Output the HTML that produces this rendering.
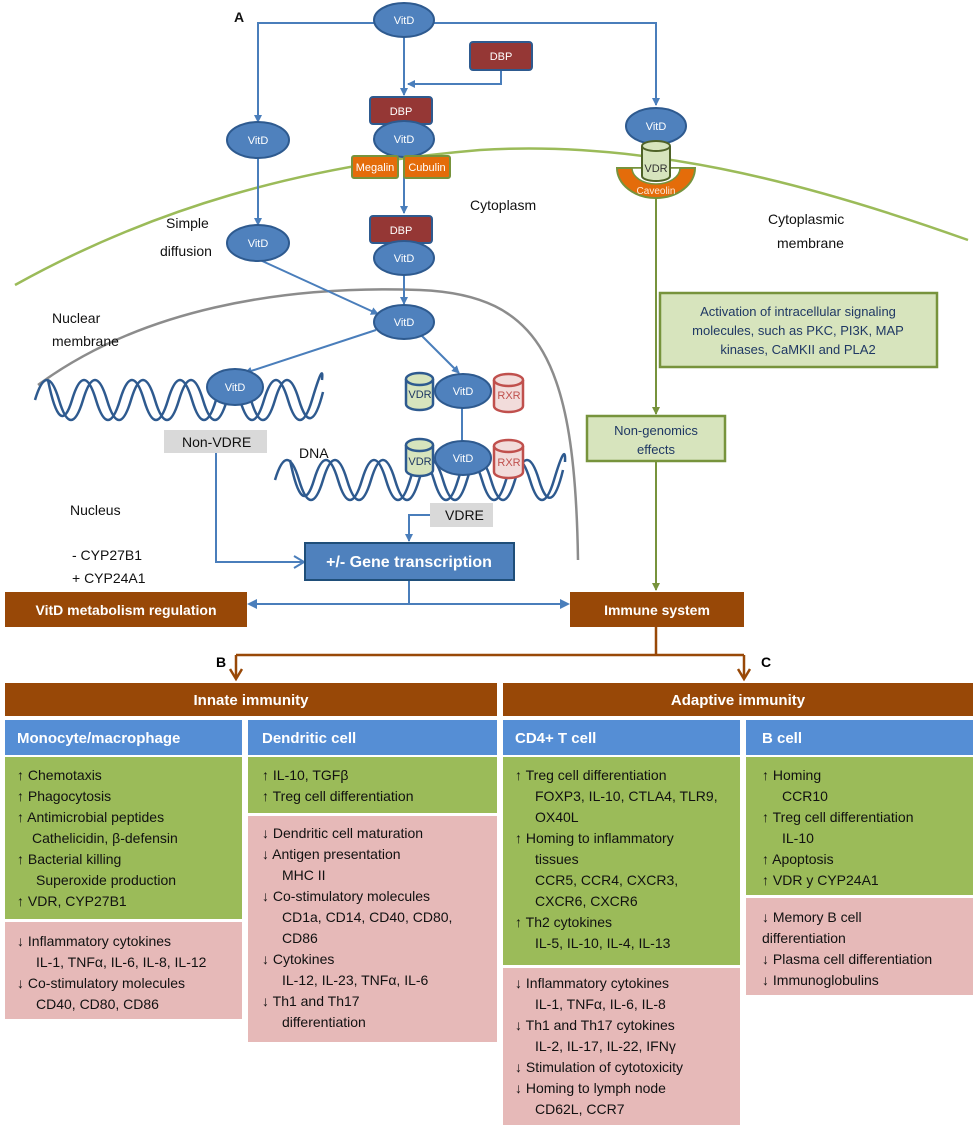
<!DOCTYPE html>
<html><head><meta charset="utf-8"><style>
html,body{margin:0;padding:0;background:#fff}
svg{display:block}
text{font-family:"Liberation Sans",sans-serif}
</style></head><body>
<svg width="973" height="1144" viewBox="0 0 973 1144" xmlns="http://www.w3.org/2000/svg">
<defs>
<marker id="ab" markerWidth="8" markerHeight="8" refX="7" refY="4" orient="auto" markerUnits="userSpaceOnUse"><path d="M0,0 L8,4 L0,8 z" fill="#4a7ebb"/></marker>
<marker id="ag" markerWidth="8" markerHeight="8" refX="7" refY="4" orient="auto" markerUnits="userSpaceOnUse"><path d="M0,0 L8,4 L0,8 z" fill="#77933c"/></marker>
<marker id="ar" markerWidth="14" markerHeight="14" refX="10" refY="7" orient="auto" markerUnits="userSpaceOnUse"><path d="M1,1 L11,7 L1,13" fill="none" stroke="#984807" stroke-width="2.5"/></marker>
<marker id="ao" markerWidth="14" markerHeight="14" refX="10" refY="7" orient="auto" markerUnits="userSpaceOnUse"><path d="M1,1 L11,7 L1,13" fill="none" stroke="#4a7ebb" stroke-width="2"/></marker>
</defs>

<path d="M15,285 C150,210 300,165 480,150 C640,140 800,180 968,240" fill="none" stroke="#9bbb59" stroke-width="2.5"/>
<path d="M38,385 C140,310 280,285 420,290 C540,295 575,360 578,560" fill="none" stroke="#8c8c8c" stroke-width="2.5"/>

<g stroke="#4a7ebb" stroke-width="2" fill="none">
<path d="M374,23 L258,23 L258,122" marker-end="url(#ab)"/>
<path d="M434,23 L656,23 L656,105" marker-end="url(#ab)"/>
<path d="M404,37 L404,95" marker-end="url(#ab)"/>
<path d="M501,70 L501,84 L408,84" marker-end="url(#ab)"/>
<path d="M258,158 L258,225" marker-end="url(#ab)"/>
<path d="M404,157 L404,213" marker-end="url(#ab)"/>
<path d="M260,260 L378,314" marker-end="url(#ab)"/>
<path d="M404,276 L404,304" marker-end="url(#ab)"/>
<path d="M376,330 L245,373" marker-end="url(#ab)"/>
<path d="M422,336 L459,373" marker-end="url(#ab)"/>
<path d="M462,408 L462,441"/>
<path d="M216,453 L216,562 L303,562" marker-end="url(#ao)"/>
<path d="M430,515 L409,515 L409,541" marker-end="url(#ab)"/>
<path d="M409,580 L409,604 M250,604 L567,604"/>
</g>
<path d="M247,604 L257,599 L257,609 z" fill="#4a7ebb"/>
<path d="M570,604 L560,599 L560,609 z" fill="#4a7ebb"/>

<g stroke="#77933c" stroke-width="2" fill="none">
<path d="M656,195 L656,414" marker-end="url(#ag)"/>
<path d="M656,461 L656,590" marker-end="url(#ag)"/>
</g>

<g fill="none" stroke="#2e5a8f" stroke-width="2.5">
<path d="M35,400 Q47,360 59,400 T83,400 T107,400 T131,400 T155,400 T179,400 T203,400 T227,400 T251,400 T275,400 T299,400 T323,392"/>
<path d="M48,380 Q60,440 72,400 T96,400 T120,400 T144,400 T168,400 T192,400 T216,400 T240,400 T264,400 T288,400 T312,400 T322,380"/>
<path d="M275,480 Q287,440 299,480 T323,480 T347,480 T371,480 T395,480 T419,480 T443,480 T467,480 T491,480 T515,480 T539,480 T563,470"/>
<path d="M290,460 Q302,520 314,480 T338,480 T362,480 T386,480 T410,480 T434,480 T458,480 T482,480 T506,480 T530,480 T554,480 T565,462"/>
</g>

<g fill="#4f81bd" stroke="#2e5a8f" stroke-width="2">
<ellipse cx="404" cy="20" rx="30" ry="17"/>
<ellipse cx="258" cy="140" rx="31" ry="18"/>
<ellipse cx="656" cy="126" rx="30" ry="18"/>
<ellipse cx="258" cy="243" rx="31" ry="18"/>
<ellipse cx="404" cy="322" rx="30" ry="17"/>
<ellipse cx="235" cy="387" rx="28" ry="18"/>
</g>
<rect x="470" y="42" width="62" height="28" rx="3" fill="#953735" stroke="#2e5a8f" stroke-width="2"/>
<rect x="370" y="97" width="62" height="27" rx="3" fill="#953735" stroke="#2e5a8f" stroke-width="2"/>
<ellipse cx="404" cy="139" rx="30" ry="18" fill="#4f81bd" stroke="#2e5a8f" stroke-width="2"/>
<rect x="370" y="216" width="62" height="27" rx="3" fill="#953735" stroke="#2e5a8f" stroke-width="2"/>
<ellipse cx="404" cy="258" rx="30" ry="17" fill="#4f81bd" stroke="#2e5a8f" stroke-width="2"/>
<rect x="352" y="156" width="46" height="22" rx="2" fill="#e46c0a" stroke="#77933c" stroke-width="2"/>
<rect x="404" y="156" width="46" height="22" rx="2" fill="#e46c0a" stroke="#77933c" stroke-width="2"/>

<path d="M617,168 L695,168 A39,30 0 0 1 617,168 z" fill="#e46c0a" stroke="#77933c" stroke-width="2"/>
<path d="M632,168 L680,168 A24,16 0 0 1 632,168 z" fill="#fff" stroke="#77933c" stroke-width="1.5"/>
<path d="M642,146 L642,176 A14,5 0 0 0 670,176 L670,146" fill="#d7e4bd" stroke="#4f6228" stroke-width="2"/>
<ellipse cx="656" cy="146" rx="14" ry="5" fill="#d7e4bd" stroke="#4f6228" stroke-width="2"/>

<g stroke-width="2.5">
<path d="M406,379 L406,404 A13.5,6 0 0 0 433,404 L433,379" fill="#d7e4bd" stroke="#2e5a8f"/>
<ellipse cx="419.5" cy="379" rx="13.5" ry="6" fill="#d7e4bd" stroke="#2e5a8f"/>
<path d="M494,380 L494,406 A14.5,6 0 0 0 523,406 L523,380" fill="#f2dcdb" stroke="#c0504d"/>
<ellipse cx="508.5" cy="380" rx="14.5" ry="6" fill="#f2dcdb" stroke="#c0504d"/>
<ellipse cx="463" cy="391" rx="28" ry="17" fill="#4f81bd" stroke="#2e5a8f" stroke-width="2"/>
<path d="M406,445 L406,470 A13.5,6 0 0 0 433,470 L433,445" fill="#d7e4bd" stroke="#2e5a8f"/>
<ellipse cx="419.5" cy="445" rx="13.5" ry="6" fill="#d7e4bd" stroke="#2e5a8f"/>
<path d="M494,446 L494,472 A14.5,6 0 0 0 523,472 L523,446" fill="#f2dcdb" stroke="#c0504d"/>
<ellipse cx="508.5" cy="446" rx="14.5" ry="6" fill="#f2dcdb" stroke="#c0504d"/>
<ellipse cx="463" cy="458" rx="28" ry="17" fill="#4f81bd" stroke="#2e5a8f" stroke-width="2"/>
</g>

<rect x="164" y="430" width="103" height="23" fill="#d9d9d9"/>
<rect x="430" y="503" width="63" height="24" fill="#d9d9d9"/>

<rect x="305" y="543" width="209" height="37" fill="#4f81bd" stroke="#1f4e79" stroke-width="2"/>

<rect x="660" y="293" width="277" height="74" fill="#d7e4bd" stroke="#77933c" stroke-width="2.5"/>
<rect x="587" y="416" width="138" height="45" fill="#d7e4bd" stroke="#77933c" stroke-width="2.5"/>

<rect x="5" y="592" width="242" height="35" fill="#984807"/>
<rect x="570" y="592" width="174" height="35" fill="#984807"/>
<g stroke="#984807" stroke-width="2.5" fill="none">
<path d="M656,627 L656,655 M236,655 L744,655"/>
<path d="M236,655 L236,678" marker-end="url(#ar)"/>
<path d="M744,655 L744,678" marker-end="url(#ar)"/>
</g>

<g font-size="11" fill="#fff" text-anchor="middle">
<text x="404" y="24">VitD</text><text x="258" y="144">VitD</text><text x="656" y="130">VitD</text>
<text x="258" y="247">VitD</text><text x="404" y="326">VitD</text><text x="235" y="391">VitD</text>
<text x="501" y="60">DBP</text><text x="401" y="115">DBP</text><text x="404" y="143">VitD</text>
<text x="401" y="234">DBP</text><text x="404" y="262">VitD</text>
<text x="375" y="171">Megalin</text><text x="427" y="171">Cubulin</text>
<text x="656" y="194" font-size="10" fill="#fde9d9">Caveolin</text>
<text x="463" y="395">VitD</text><text x="463" y="462">VitD</text>
</g>
<g font-size="11" text-anchor="middle">
<text x="656" y="172" fill="#333">VDR</text>
<text x="420" y="398" fill="#1f3864">VDR</text><text x="509" y="399" fill="#c0504d">RXR</text>
<text x="420" y="465" fill="#1f3864">VDR</text><text x="509" y="466" fill="#c0504d">RXR</text>
</g>
<g font-size="14" fill="#111">
<text x="234" y="22" font-weight="bold">A</text>
<text x="470" y="210">Cytoplasm</text>
<text x="166" y="228">Simple</text><text x="160" y="256">diffusion</text>
<text x="768" y="224">Cytoplasmic</text><text x="777" y="248">membrane</text>
<text x="52" y="323">Nuclear</text><text x="52" y="346">membrane</text>
<text x="182" y="447">Non-VDRE</text>
<text x="299" y="458">DNA</text>
<text x="445" y="520">VDRE</text>
<text x="70" y="515">Nucleus</text>
<text x="72" y="560">- CYP27B1</text>
<text x="72" y="583">+ CYP24A1</text>
</g>
<g font-size="13" fill="#1f3864" text-anchor="middle">
<text x="798" y="316">Activation of intracellular signaling</text>
<text x="798" y="335">molecules, such as PKC, PI3K, MAP</text>
<text x="798" y="354">kinases, CaMKII and PLA2</text>
<text x="656" y="435">Non-genomics</text>
<text x="656" y="454">effects</text>
</g>
<text x="409" y="567" font-size="16" font-weight="bold" fill="#fff" text-anchor="middle">+/- Gene transcription</text>
<text x="126" y="615" font-size="14" font-weight="bold" fill="#fff" text-anchor="middle">VitD metabolism regulation</text>
<text x="657" y="615" font-size="14" font-weight="bold" fill="#fff" text-anchor="middle">Immune system</text>
<text x="216" y="667" font-size="14" font-weight="bold">B</text>
<text x="761" y="667" font-size="14" font-weight="bold">C</text>

<rect x="5" y="683" width="492" height="33" fill="#984807"/>
<rect x="503" y="683" width="470" height="33" fill="#984807"/>
<g fill="#558ed5">
<rect x="5" y="720" width="237" height="35"/><rect x="248" y="720" width="249" height="35"/>
<rect x="503" y="720" width="237" height="35"/><rect x="746" y="720" width="227" height="35"/>
</g>
<g fill="#9bbb59">
<rect x="5" y="757" width="237" height="162"/><rect x="248" y="757" width="249" height="56"/>
<rect x="503" y="757" width="237" height="208"/><rect x="746" y="757" width="227" height="138"/>
</g>
<g fill="#e6b9b8">
<rect x="5" y="922" width="237" height="97"/><rect x="248" y="816" width="249" height="226"/>
<rect x="503" y="968" width="237" height="157"/><rect x="746" y="898" width="227" height="97"/>
</g>
<g font-size="15" font-weight="bold" fill="#fff">
<text x="251" y="705" text-anchor="middle">Innate immunity</text>
<text x="738" y="705" text-anchor="middle">Adaptive immunity</text>
<text x="17" y="743">Monocyte/macrophage</text>
<text x="262" y="743">Dendritic cell</text>
<text x="515" y="743">CD4+ T cell</text>
<text x="762" y="743">B cell</text>
</g>
<g font-size="14" fill="#111">
<text x="17" y="780">↑ Chemotaxis</text>
<text x="17" y="801">↑ Phagocytosis</text>
<text x="17" y="822">↑ Antimicrobial peptides</text>
<text x="32" y="843">Cathelicidin, β-defensin</text>
<text x="17" y="864">↑ Bacterial killing</text>
<text x="36" y="885">Superoxide production</text>
<text x="17" y="906">↑ VDR, CYP27B1</text>
<text x="17" y="946">↓ Inflammatory cytokines</text>
<text x="36" y="967">IL-1, TNFα, IL-6, IL-8, IL-12</text>
<text x="17" y="988">↓ Co-stimulatory molecules</text>
<text x="36" y="1009">CD40, CD80, CD86</text>

<text x="262" y="780">↑ IL-10, TGFβ</text>
<text x="262" y="801">↑ Treg cell differentiation</text>
<text x="262" y="838">↓ Dendritic cell maturation</text>
<text x="262" y="859">↓ Antigen presentation</text>
<text x="282" y="880">MHC II</text>
<text x="262" y="901">↓ Co-stimulatory molecules</text>
<text x="282" y="922">CD1a, CD14, CD40, CD80,</text>
<text x="282" y="943">CD86</text>
<text x="262" y="964">↓ Cytokines</text>
<text x="282" y="985">IL-12, IL-23, TNFα, IL-6</text>
<text x="262" y="1006">↓ Th1 and Th17</text>
<text x="282" y="1027">differentiation</text>

<text x="515" y="780">↑ Treg cell differentiation</text>
<text x="535" y="801">FOXP3, IL-10, CTLA4, TLR9,</text>
<text x="535" y="822">OX40L</text>
<text x="515" y="843">↑ Homing to inflammatory</text>
<text x="535" y="864">tissues</text>
<text x="535" y="885">CCR5, CCR4, CXCR3,</text>
<text x="535" y="906">CXCR6, CXCR6</text>
<text x="515" y="927">↑ Th2  cytokines</text>
<text x="535" y="948">IL-5, IL-10, IL-4, IL-13</text>
<text x="515" y="988">↓ Inflammatory cytokines</text>
<text x="535" y="1009">IL-1, TNFα, IL-6, IL-8</text>
<text x="515" y="1030">↓ Th1 and Th17 cytokines</text>
<text x="535" y="1051">IL-2, IL-17, IL-22, IFNγ</text>
<text x="515" y="1072">↓ Stimulation of cytotoxicity</text>
<text x="515" y="1093">↓ Homing to lymph node</text>
<text x="535" y="1114">CD62L, CCR7</text>

<text x="762" y="780">↑ Homing</text>
<text x="782" y="801">CCR10</text>
<text x="762" y="822">↑ Treg cell differentiation</text>
<text x="782" y="843">IL-10</text>
<text x="762" y="864">↑ Apoptosis</text>
<text x="762" y="885">↑ VDR y CYP24A1</text>
<text x="762" y="922">↓ Memory B cell</text>
<text x="762" y="943">differentiation</text>
<text x="762" y="964">↓ Plasma cell differentiation</text>
<text x="762" y="985">↓ Immunoglobulins</text>
</g>
</svg>
</body></html>
